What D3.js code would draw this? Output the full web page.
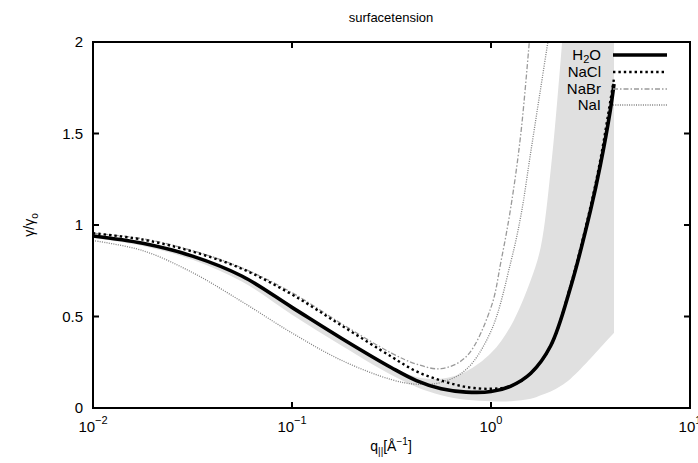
<!DOCTYPE html>
<html>
<head>
<meta charset="utf-8">
<script src="https://cdn.jsdelivr.net/npm/d3@7"></script>
<style>
  body { margin: 0; background: #fff; }
  text { font-family: "Liberation Sans", Arial, sans-serif; fill: #000; }
</style>
</head>
<body>
<div id="chart"></div>
<script>
// log10(q) positions and gamma/gamma0 values
var h2oLogQ = [-2, -1.75, -1.5, -1.25, -1, -0.75, -0.5, -0.375, -0.25, -0.125, 0, 0.1, 0.2, 0.3, 0.4, 0.5, 0.55, 0.6, 0.618];
var h2oVals = [0.94, 0.9, 0.83, 0.72, 0.55, 0.38, 0.22, 0.15, 0.105, 0.087, 0.09, 0.12, 0.19, 0.34, 0.66, 1.08, 1.33, 1.63, 1.77];

var naclLogQ = [-2, -1.75, -1.5, -1.25, -1, -0.75, -0.5, -0.375, -0.25, -0.125, 0, 0.1, 0.2, 0.3, 0.4, 0.5, 0.55, 0.6, 0.618];
var naclVals = [0.955, 0.92, 0.855, 0.76, 0.62, 0.45, 0.28, 0.2, 0.15, 0.115, 0.105, 0.12, 0.19, 0.34, 0.67, 1.1, 1.36, 1.68, 1.8];

var nabrLogQ = [-2, -1.75, -1.5, -1.25, -1, -0.75, -0.5, -0.375, -0.25, -0.125, 0, 0.05, 0.1, 0.15, 0.2];
var nabrVals = [0.955, 0.925, 0.86, 0.765, 0.63, 0.46, 0.3, 0.24, 0.215, 0.28, 0.55, 0.8, 1.1, 1.5, 2.1];

var naiLogQ = [-2, -1.75, -1.5, -1.25, -1, -0.75, -0.5, -0.375, -0.25, -0.125, 0, 0.1, 0.15, 0.2, 0.25, 0.3];
var naiVals = [0.915, 0.86, 0.74, 0.58, 0.41, 0.26, 0.155, 0.13, 0.14, 0.21, 0.42, 0.8, 1.05, 1.4, 1.75, 2.1];

// shaded uncertainty band around H2O
var bandLogQ = [-2, -1.75, -1.5, -1.25, -1, -0.75, -0.5, -0.375, -0.25, -0.125, 0, 0.1, 0.2, 0.25, 0.3, 0.35, 0.4, 0.5, 0.55, 0.6, 0.618];
var bandLow  = [0.93, 0.885, 0.81, 0.69, 0.51, 0.34, 0.18, 0.115, 0.07, 0.045, 0.037, 0.037, 0.05, 0.07, 0.09, 0.12, 0.16, 0.27, 0.33, 0.39, 0.41];
var bandHigh = [0.95, 0.905, 0.835, 0.725, 0.555, 0.385, 0.225, 0.17, 0.16, 0.2, 0.3, 0.45, 0.7, 0.88, 1.3, 1.9, 2.6, 3.2, 3.2, 3.2, 3.2];

var xTicks = [0.01, 0.1, 1, 10];
var xTickExp = ["\u22122", "\u22121", "0", "1"];
var yTicks = [0, 0.5, 1, 1.5, 2];

var W = 698, H = 463;
var plotL = 93, plotR = 690, plotT = 42, plotB = 408;

var svg = d3.select("#chart").append("svg")
  .attr("width", W)
  .attr("height", H);

var x = d3.scaleLog().domain([0.01, 10]).range([plotL, plotR]);
var y = d3.scaleLinear().domain([0, 2]).range([plotB, plotT]);

svg.append("clipPath").attr("id", "plotclip")
  .append("rect")
  .attr("x", plotL).attr("y", plotT)
  .attr("width", plotR - plotL).attr("height", plotB - plotT);

var plot = svg.append("g").attr("clip-path", "url(#plotclip)");

function toPts(lq, vals) {
  return lq.map((l, i) => ({ q: Math.pow(10, l), v: vals[i] }));
}

var curve = d3.curveCatmullRom.alpha(0.5);

var band = bandLogQ.map((l, i) => ({ q: Math.pow(10, l), lo: bandLow[i], hi: bandHigh[i] }));
plot.append("path")
  .datum(band)
  .attr("fill", "#e0e0e0")
  .attr("d", d3.area()
    .curve(curve)
    .x((d) => x(d.q))
    .y0((d) => y(d.lo))
    .y1((d) => y(d.hi)));

var line = d3.line()
  .curve(curve)
  .x((d) => x(d.q))
  .y((d) => y(d.v));

var series = [
  { name: "NaI", lq: naiLogQ, vals: naiVals, color: "#808080", width: 1.3, dash: "1,1.3" },
  { name: "NaBr", lq: nabrLogQ, vals: nabrVals, color: "#9a9a9a", width: 1.3, dash: "5,2,1.5,2" },
  { name: "NaCl", lq: naclLogQ, vals: naclVals, color: "#000", width: 2.4, dash: "2.4,3" },
  { name: "H2O", lq: h2oLogQ, vals: h2oVals, color: "#000", width: 3.6, dash: null }
];

series.forEach((s) => {
  plot.append("path")
    .datum(toPts(s.lq, s.vals))
    .attr("fill", "none")
    .attr("stroke", s.color)
    .attr("stroke-width", s.width)
    .attr("stroke-dasharray", s.dash)
    .attr("d", line);
});

// ticks (inward, mirrored)
var tk = svg.append("g").attr("stroke", "#000").attr("stroke-width", 2);
xTicks.forEach((t) => {
  tk.append("line").attr("x1", x(t)).attr("x2", x(t)).attr("y1", plotB).attr("y2", plotB - 6);
  tk.append("line").attr("x1", x(t)).attr("x2", x(t)).attr("y1", plotT).attr("y2", plotT + 6);
});
yTicks.forEach((t) => {
  tk.append("line").attr("x1", plotL).attr("x2", plotL + 6).attr("y1", y(t)).attr("y2", y(t));
  tk.append("line").attr("x1", plotR).attr("x2", plotR - 6).attr("y1", y(t)).attr("y2", y(t));
});

svg.append("rect")
  .attr("x", plotL).attr("y", plotT)
  .attr("width", plotR - plotL).attr("height", plotB - plotT)
  .attr("fill", "none")
  .attr("stroke", "#000")
  .attr("stroke-width", 2);

// tick labels
xTicks.forEach((t, i) => {
  var tx = svg.append("text")
    .attr("x", x(t))
    .attr("y", 432)
    .attr("text-anchor", "middle")
    .style("font-size", "15px");
  tx.append("tspan").text("10");
  tx.append("tspan").attr("dy", -8).style("font-size", "11px").text(xTickExp[i]);
});

yTicks.forEach((t) => {
  svg.append("text")
    .attr("x", 83)
    .attr("y", y(t) + 5)
    .attr("text-anchor", "end")
    .style("font-size", "15px")
    .text(d3.format("")(t));
});

// title and axis labels
svg.append("text")
  .attr("x", 391).attr("y", 22)
  .attr("text-anchor", "middle")
  .style("font-size", "13px")
  .text("surfacetension");

var xl = svg.append("text")
  .attr("x", 391).attr("y", 451)
  .attr("text-anchor", "middle")
  .style("font-size", "14px");
xl.append("tspan").text("q");
xl.append("tspan").attr("dy", 4).style("font-size", "10px").text("||");
xl.append("tspan").attr("dy", -4).text("[Å");
xl.append("tspan").attr("dy", -6).style("font-size", "10px").text("\u22121");
xl.append("tspan").attr("dy", 6).text("]");

var yl = svg.append("text")
  .attr("transform", "translate(34,225) rotate(-90)")
  .attr("text-anchor", "middle")
  .style("font-size", "14px");
yl.append("tspan").text("\u03b3/\u03b3");
yl.append("tspan").attr("dy", 4).style("font-size", "10px").text("o");

// legend
var legendRows = [55, 72, 89, 105];
series.slice().reverse().forEach((s, i) => {
  var ry = legendRows[i];
  var lt = svg.append("text")
    .attr("x", 601).attr("y", ry + 5)
    .attr("text-anchor", "end")
    .style("font-size", "15px");
  if (s.name === "H2O") {
    lt.append("tspan").text("H");
    lt.append("tspan").attr("dy", 3).style("font-size", "11px").text("2");
    lt.append("tspan").attr("dy", -3).text("O");
  } else {
    lt.text(s.name);
  }
  svg.append("line")
    .attr("x1", 613).attr("x2", 667)
    .attr("y1", ry).attr("y2", ry)
    .attr("stroke", s.color)
    .attr("stroke-width", s.width)
    .attr("stroke-dasharray", s.dash);
});
</script>
</body>
</html>
